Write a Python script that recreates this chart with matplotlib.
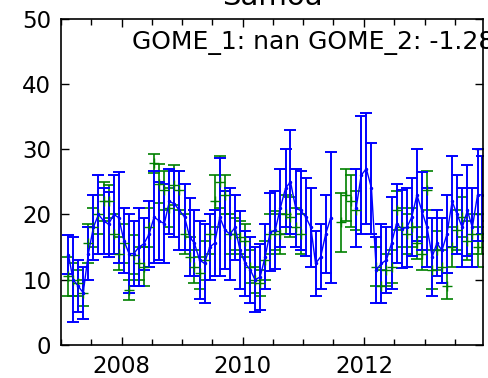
import numpy as np
import pandas as pd
import matplotlib
matplotlib.use('Agg')
from matplotlib import pyplot as plt
import matplotlib.dates as mdates

nan = np.nan

# monthly dates, Jan 2007 - Dec 2013
months = pd.date_range('2007-01-15', periods=84, freq='MS') + pd.Timedelta(days=14)

# GOME_2 (blue)
gome2 = [13.8, 10, 9, 8, 14, 18, 20, 19, 18.5, 20, 19.5, 16,
         14, 14, 15, 15.5, 17, 19.6, 19, 18.6, 22, 21.6, 20.6, 19.6,
         16.5, 15.6, 13, 12.5, 15, 15.6, 19.6, 17.6, 17, 18, 14.5, 12.5,
         11.5, 10, 10.4, 13.5, 17.3, 17.6, 21, 24, 25, 21, 20.6, 19.6,
         18, 12.5, 13.5, 17, 19.5, nan, nan, nan, nan, 21, 26, 27,
         24, 11.5, 12.5, 13, 15.6, 18.6, 17.8, 18, 19.6, 23, 20.5, 18,
         13.5, 15.6, 14.5, 17, 22, 20, 18, 20.6, 18, 23, 23, nan]
gome2_err = [3, 6.5, 4, 4, 4, 5, 6, 5, 5, 6, 7, 5,
             6, 5, 6, 4, 5, 7, 6, 6, 5, 5, 6, 5,
             6, 5, 6, 6, 5, 5, 9, 6, 7, 5, 6, 5,
             5, 5, 5, 5, 6, 6, 6, 6, 8, 6, 6, 6,
             6, 5, 5, 6, 10, nan, nan, nan, nan, 6, 9, 8.5,
             7, 5, 6, 5, 7, 6, 6, 6, 6, 7, 6, 6,
             6, 5, 5, 6, 7, 6, 6, 7, 6, 7, 6, nan]

# GOME_1 (green)
gome1 = [10.5, 10, 9.5, 8, 15.6, 18, 20, 22, 22, 17, 14, 15.6,
         8.4, 13.8, 12.5, 12, 18, 27.8, 24.7, 23.7, 21, 24.5, 23.7, 17,
         13.5, 12, 11, 13, 17, 22, 25, 23, 17, 17, 16.5, 16,
         12, 10, 9.5, 13, 17, 17.5, 17, 20, 19.6, 18, 17, nan,
         nan, nan, nan, nan, nan, nan, 18.8, 23, 22, 20.6, nan, nan,
         nan, 12, 9, 11.5, 12, 20.6, 18, 17, 18, 15.6, 14, 23.7,
         11.5, 14.5, 12, 9, 15, 17.6, 19.6, 16, 17, 15, 17, 16.5]
gome1_err = [3, 2.5, 2, 2, 3, 3, 3, 3, 2.5, 3, 2.5, 3,
             1.5, 3, 2.5, 3, 3, 1.5, 3, 3, 3, 3, 3, 3,
             3, 2.5, 2.5, 3, 3, 4, 4, 3, 3, 2.5, 2.5, 2.5,
             2.5, 2, 2, 3, 3, 3, 3, 3, 3, 3, 3, nan,
             nan, nan, nan, nan, nan, nan, 4.5, 4, 4, 3, nan, nan,
             nan, 3, 2.5, 2.5, 2.5, 3, 3, 3, 3, 2.5, 2.5, 3,
             3, 3, 2.5, 2, 3, 3, 3, 3, 3, 3, 3, 2.5]

title = 'Samoa'
label = 'GOME_1: nan GOME_2: -1.28'

fs = 16.5
plt.rcParams['font.family'] = 'DejaVu Sans'
plt.rcParams['font.size'] = fs

fig = plt.figure(figsize=(4.89, 3.78), dpi=100)
ax = fig.add_axes([0.1247, 0.0873, 0.8630, 0.8637])

ax.errorbar(months, gome1, yerr=gome1_err, fmt='+', color=(0, 0.5, 0),
            ecolor=(0, 0.5, 0), markersize=7, capsize=4, elinewidth=1.2, capthick=1.2)
ax.errorbar(months, gome2, yerr=gome2_err, fmt='.-', color='b', ecolor='b',
            markersize=3, linewidth=1.0, capsize=4, elinewidth=1.4, capthick=1.4)

ax.set_ylim(0, 50)
ax.set_xlim(pd.Timestamp('2007-01-01'), pd.Timestamp('2013-12-18'))
ax.set_yticks([0, 10, 20, 30, 40, 50])
ax.xaxis.set_major_locator(mdates.YearLocator(2))
ax.xaxis.set_minor_locator(mdates.MonthLocator(bymonth=[1, 7]))
ax.xaxis.set_major_formatter(mdates.DateFormatter('%Y'))
ax.tick_params(which='both', direction='in', top=True, right=True, width=1)
ax.tick_params(which='major', length=6, pad=7, labelsize=fs)
ax.tick_params(which='minor', length=4)
for s in ax.spines.values():
    s.set_linewidth(1.2)

# title sits mostly above the canvas, as in the original
ax.set_title(title, fontsize=21, pad=10)
ax.text(0.168, 0.962, label, transform=ax.transAxes, ha='left', va='top', fontsize=18)

fig.savefig('out.png', dpi=100, facecolor='white')
